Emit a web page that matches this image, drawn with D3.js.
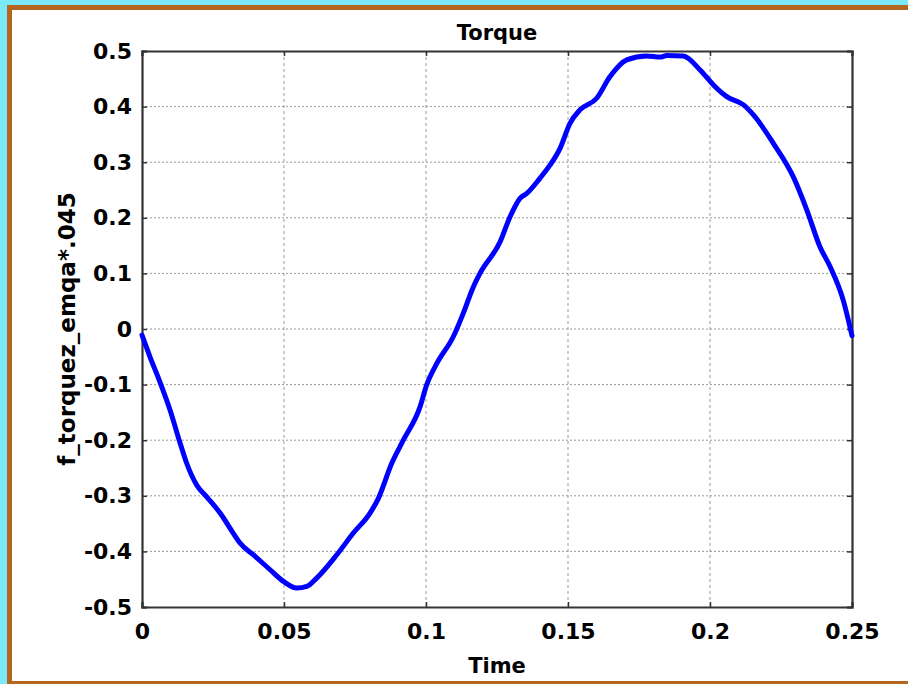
<!DOCTYPE html>
<html><head><meta charset="utf-8">
<script src="https://cdn.jsdelivr.net/npm/d3@7"></script>
<style>body{margin:0;} svg{display:block;} text{font-family:"DejaVu Sans",Verdana,sans-serif;font-weight:bold;fill:#000;}</style>
</head><body>
<svg id="chart" width="908" height="684"></svg>
<script>
const title = "Torque";
const xLabel = "Time";
const yLabel = "f_torquez_emqa*.045";
const xTicks = [0, 0.05, 0.1, 0.15, 0.2, 0.25];
const yTicks = [-0.5, -0.4, -0.3, -0.2, -0.1, 0, 0.1, 0.2, 0.3, 0.4, 0.5];
const time = [0, 0.0028, 0.0063, 0.0099, 0.0134, 0.0157, 0.0193, 0.0228, 0.0275, 0.0321, 0.0345, 0.0392, 0.0451, 0.0498, 0.0545, 0.0580, 0.0615, 0.0686, 0.0744, 0.0803, 0.0832, 0.0879, 0.0920, 0.0979, 0.1002, 0.1038, 0.1096, 0.1131, 0.1167, 0.1190, 0.1261, 0.1296, 0.1331, 0.1355, 0.1401, 0.1437, 0.1472, 0.1507, 0.1542, 0.1601, 0.1648, 0.1707, 0.1777, 0.1824, 0.1848, 0.1906, 0.1965, 0.2012, 0.2059, 0.2118, 0.2153, 0.2223, 0.2293, 0.2341, 0.2387, 0.2423, 0.2469, 0.25];
const torque = [-0.011, -0.050, -0.095, -0.146, -0.205, -0.241, -0.281, -0.302, -0.331, -0.367, -0.385, -0.406, -0.433, -0.454, -0.466, -0.463, -0.448, -0.406, -0.367, -0.331, -0.305, -0.242, -0.200, -0.140, -0.101, -0.062, -0.014, 0.028, 0.076, 0.100, 0.157, 0.202, 0.235, 0.244, 0.271, 0.295, 0.325, 0.370, 0.394, 0.415, 0.454, 0.484, 0.491, 0.489, 0.492, 0.491, 0.466, 0.439, 0.418, 0.403, 0.385, 0.334, 0.274, 0.214, 0.148, 0.112, 0.052, -0.012];

const svg = d3.select("#chart");
const W = 908, H = 684;
// frame
svg.append("rect").attr("x",0).attr("y",0).attr("width",W).attr("height",H).attr("fill","#7ce9f8");
svg.append("rect").attr("x",7).attr("y",5).attr("width",W).attr("height",H).attr("fill","#b5651d");
svg.append("rect").attr("x",12).attr("y",10).attr("width",W).attr("height",671).attr("fill","#ffffff");

const L = 142, R = 852, T = 51, B = 607;
const x = d3.scaleLinear().domain([0, 0.25]).range([L, R]);
const y = d3.scaleLinear().domain([-0.5, 0.5]).range([B, T]);

const g = svg.append("g");
// grid
g.selectAll(".vg").data(xTicks.slice(1, -1)).join("line")
  .attr("x1", d => x(d)).attr("x2", d => x(d)).attr("y1", T).attr("y2", B)
  .attr("stroke", "#9a9a9a").attr("stroke-width", 1).attr("stroke-dasharray", "3,3");
g.selectAll(".hg").data(yTicks.slice(1, -1)).join("line")
  .attr("x1", L).attr("x2", R).attr("y1", d => y(d)).attr("y2", d => y(d))
  .attr("stroke", "#9a9a9a").attr("stroke-width", 1).attr("stroke-dasharray", "2,2");

// axes with inward ticks
const fmt = d => d === 0 ? "0" : String(d);
const axB = svg.append("g").attr("transform", `translate(0,${B})`)
  .call(d3.axisBottom(x).tickValues(xTicks).tickSize(-5).tickPadding(16).tickFormat(fmt));
const axT = svg.append("g").attr("transform", `translate(0,${T})`)
  .call(d3.axisTop(x).tickValues(xTicks).tickSize(-5).tickFormat(""));
const axL = svg.append("g").attr("transform", `translate(${L},0)`)
  .call(d3.axisLeft(y).tickValues(yTicks).tickSize(-5).tickPadding(10).tickFormat(fmt));
const axR = svg.append("g").attr("transform", `translate(${R},0)`)
  .call(d3.axisRight(y).tickValues(yTicks).tickSize(-5).tickFormat(""));
[axB, axT, axL, axR].forEach(a => {
  a.select(".domain").attr("stroke", "#333").attr("stroke-width", 2.2);
  a.selectAll(".tick line").attr("stroke", "#333").attr("stroke-width", 1.5);
  a.selectAll("text").attr("font-size", 22).attr("font-family", "DejaVu Sans").attr("font-weight", "bold").attr("fill", "#000");
});
axB.selectAll("text").attr("dy", "0.71em");

// line
const data = time.map((t, i) => ({t, v: torque[i]}));
svg.append("path").datum(data)
  .attr("fill", "none").attr("stroke", "#0000ff").attr("stroke-width", 5)
  .attr("stroke-linejoin", "round").attr("stroke-linecap", "round")
  .attr("d", d3.line().x(d => x(d.t)).y(d => y(d.v)).curve(d3.curveMonotoneX));

// labels
svg.append("text").attr("x", (L + R) / 2).attr("y", 40).attr("text-anchor", "middle").attr("font-size", 21).text(title);
svg.append("text").attr("x", (L + R) / 2).attr("y", 673).attr("text-anchor", "middle").attr("font-size", 21).text(xLabel);
svg.append("text").attr("transform", `translate(75,${(T + B) / 2}) rotate(-90)`).attr("text-anchor", "middle").attr("font-size", 23).text(yLabel);
</script>
</body></html>
